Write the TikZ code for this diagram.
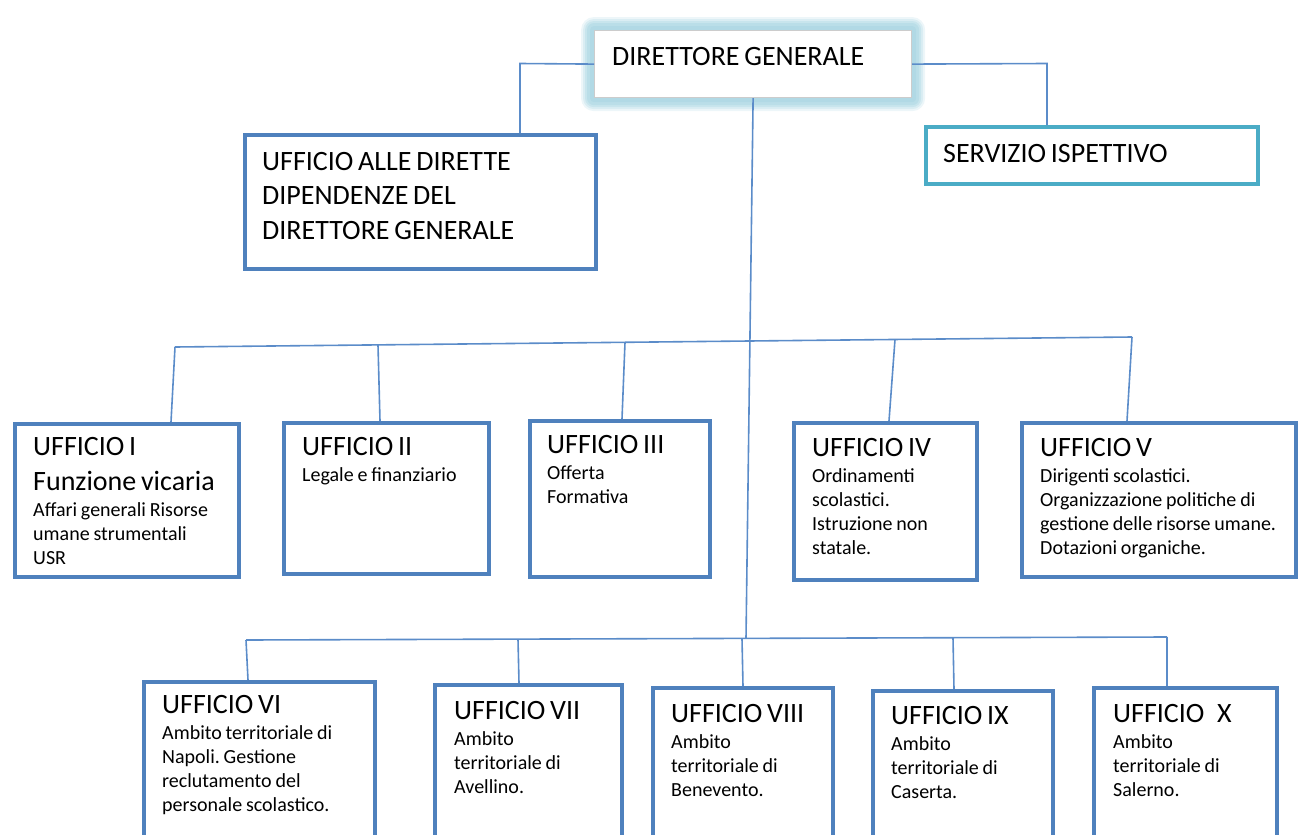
\documentclass[tikz,border=0pt]{standalone}
\usepackage{fontspec}
\setmainfont{Carlito}
\usetikzlibrary{calc,backgrounds}
\definecolor{boxblue}{HTML}{4F81BD}
\definecolor{lineblue}{HTML}{5B8CC9}
\definecolor{servteal}{HTML}{4BACC6}
\definecolor{glowblue}{HTML}{AED8E4}
\protected\def\smallsp{\spaceskip=0.19em plus 0.05em\relax}
\protected\def\bigsp{\spaceskip=0.17em plus 0.05em\relax}
\newcommand\hd[1]{{\fontsize{28}{35}\selectfont\bigsp #1}}
\tikzset{
  ubox/.style={draw=boxblue, line width=3.6pt, fill=white, rectangle, inner sep=0pt, anchor=north west},
  conn/.style={draw=lineblue, line width=1.6pt},
  txt/.style={anchor=north west, inner sep=0pt, text width=300pt, align=left,
    font=\frenchspacing\fontsize{20}{24}\selectfont, execute at begin node=\smallsp},
}
\begin{document}
\begin{tikzpicture}[x=1pt,y=-1pt]
\useasboundingbox (0,0) rectangle (1299,835);
\clip (0,0) rectangle (1299,835);

% top level
\node[rectangle, draw=gray!40, line width=1.2pt, fill=white, inner sep=0pt, anchor=north west,
      minimum width=317pt, minimum height=67pt] (dir) at (594,30) {};
\begin{scope}[on background layer]
\foreach \i/\o in {13/0.22, 11/0.3, 9/0.4, 7/0.55, 4/0.75}
  \fill[glowblue, opacity=\o, rounded corners=\i pt]
    ([shift={(-\i pt,\i pt)}]dir.north west) rectangle ([shift={(\i pt,-\i pt)}]dir.south east);
\end{scope}
\node[txt] (dirt) at (612,47) {\hd{DIRETTORE GENERALE}};

\node[ubox, minimum width=351pt, minimum height=134pt] (ualle) at (243,133) {};
\node[txt, font=\frenchspacing\fontsize{28}{34.5}\selectfont, execute at begin node=\bigsp] (uallet) at (262,152)
  {UFFICIO ALLE DIRETTE\\DIPENDENZE DEL\\DIRETTORE GENERALE};

\node[ubox, draw=servteal, minimum width=332pt, minimum height=57pt] (serv) at (924,125) {};
\node[txt] (servt) at (943,144) {\hd{SERVIZIO ISPETTIVO}};

% row 1 boxes
\node[ubox, minimum width=224pt, minimum height=153pt] (u1) at (13,422) {};
\node[ubox, minimum width=205pt, minimum height=151pt] (u2) at (282,421) {};
\node[ubox, minimum width=180pt, minimum height=156pt] (u3) at (528,419) {};
\node[ubox, minimum width=183pt, minimum height=157pt] (u4) at (792,421) {};
\node[ubox, minimum width=274pt, minimum height=154pt] (u5) at (1020,421) {};

% row 2 boxes
\node[ubox, minimum width=231pt, minimum height=190pt] (u6) at (142,680) {};
\node[ubox, minimum width=187pt, minimum height=190pt] (u7) at (433,683) {};
\node[ubox, minimum width=180pt, minimum height=190pt] (u8) at (651,686) {};
\node[ubox, minimum width=180pt, minimum height=190pt] (u9) at (871,689) {};
\node[ubox, minimum width=183pt, minimum height=190pt] (u10) at (1092,686) {};

% texts row 1
\begin{scope}
\clip (u1.north west) rectangle ([yshift=10pt]u1.south east);
\node[txt] (t1) at (33,437) {\hd{UFFICIO I}\\[11pt]\hd{Funzione vicaria}\\[2pt]Affari generali Risorse\\umane strumentali\\USR};
\end{scope}
\node[txt] (t2) at (302,437) {\hd{UFFICIO II}\\[2pt]Legale e finanziario};
\node[txt] (t3) at (547,435) {\hd{UFFICIO III}\\[2pt]Offerta\\Formativa};
\node[txt] (t4) at (812,438) {\hd{UFFICIO IV}\\[2pt]Ordinamenti\\scolastici.\\Istruzione non\\statale.};
\node[txt] (t5) at (1040,438) {\hd{UFFICIO V}\\[2pt]Dirigenti scolastici.\\Organizzazione politiche di\\gestione delle risorse umane.\\Dotazioni organiche.};

% texts row 2
\node[txt] (t6) at (162,695) {\hd{UFFICIO VI}\\[2pt]Ambito territoriale di\\Napoli. Gestione\\reclutamento del\\personale scolastico.};
\node[txt] (t7) at (454,701) {\hd{UFFICIO VII}\\[2pt]Ambito\\territoriale di\\Avellino.};
\node[txt] (t8) at (671,704) {\hd{UFFICIO VIII}\\[2pt]Ambito\\territoriale di\\Benevento.};
\node[txt] (t9) at (891,706) {\hd{UFFICIO IX}\\[2pt]Ambito\\territoriale di\\Caserta.};
\node[txt] (t10) at (1113,704) {\hd{UFFICIO\hspace{0.45em}X}\\[2pt]Ambito\\territoriale di\\Salerno.};

% connectors top
\coordinate (dl) at (520,63.5);
\coordinate (dr) at (1047,63.5);
\draw[conn] (dir.west) -- (dl) -- (dl |- ualle.north);
\draw[conn] (dir.east) -- (dr) -- (dr |- serv.north);

% trunk and buses
\coordinate (b1L) at (175,347);
\coordinate (b1R) at (1132,337);
\coordinate (b2L) at (246,640);
\coordinate (b2R) at (1167,637);
\coordinate (b2m) at (746,638.5);
\draw[conn] (dir.south) -- (b2m);
\draw[conn] (b1L) -- (b1R);
\draw[conn] (b2L) -- (b2R);

% drops row 1
\coordinate (p2) at (378,345);
\coordinate (p3) at (625,342.3);
\coordinate (p4) at (895,339.5);
\draw[conn] (b1L) -- ($(u1.north west)+(158,0)$);
\draw[conn] (p2) -- ($(u2.north west)+(98,0)$);
\draw[conn] (p3) -- ($(u3.north west)+(94,0)$);
\draw[conn] (p4) -- ($(u4.north west)+(97,0)$);
\draw[conn] (b1R) -- ($(u5.north west)+(107,0)$);

% drops row 2
\coordinate (q7) at (518,639.2);
\coordinate (q8) at (742,638.5);
\coordinate (q9) at (953,637.8);
\draw[conn] (b2L) -- ($(u6.north west)+(106,0)$);
\draw[conn] (q7) -- ($(u7.north west)+(86,0)$);
\draw[conn] (q8) -- ($(u8.north west)+(92,0)$);
\draw[conn] (q9) -- ($(u9.north west)+(83,0)$);
\draw[conn] (b2R) -- ($(u10.north west)+(75,0)$);
\end{tikzpicture}
\end{document}
